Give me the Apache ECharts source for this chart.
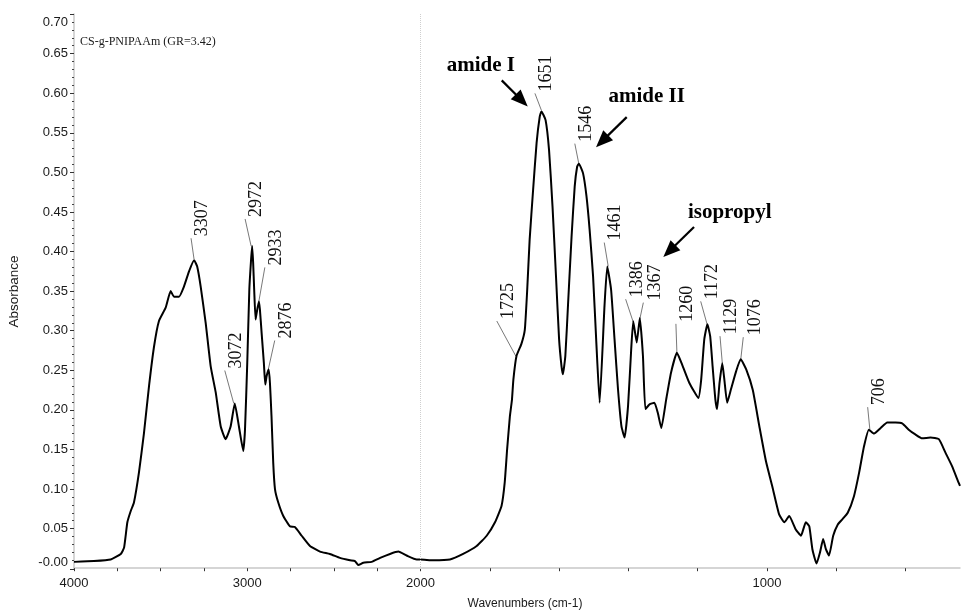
<!DOCTYPE html>
<html>
<head>
<meta charset="utf-8">
<script src="https://cdn.jsdelivr.net/npm/echarts@6/dist/echarts.min.js"></script>
<style>
  html, body { margin: 0; padding: 0; background: #fff; }
  #chart { width: 961px; height: 614px; }
</style>
</head>
<body>
<div id="chart"></div>
<script>
// spectrum (cm-1 / absorbance)
var wavenumbers = [
  4000, 3885, 3788, 3730, 3711, 3692, 3673, 3654, 3625, 3596, 3567, 3538, 3510, 3471, 3442, 3423, 3394, 3365, 3336, 3307,
  3289, 3269, 3240, 3211, 3182, 3153, 3125, 3096, 3072, 3048, 3023, 3013, 3000, 2988, 2979, 2972, 2966, 2960, 2952, 2946,
  2933, 2927, 2917, 2904, 2896, 2888, 2876, 2869, 2860, 2850, 2840, 2821, 2792, 2754, 2725, 2686, 2638, 2580, 2523, 2465,
  2407, 2378, 2359, 2330, 2282, 2233, 2176, 2128, 2080, 2022, 2000,
  1963, 1915, 1877, 1838, 1809, 1785, 1766, 1757, 1750, 1742, 1736, 1732, 1723, 1709, 1699, 1692, 1685, 1675, 1665, 1656,
  1651, 1639, 1629, 1619, 1609, 1600, 1593, 1589, 1582, 1574, 1564, 1555, 1548, 1543, 1531, 1521, 1512, 1502, 1493, 1483,
  1469, 1461, 1450, 1440, 1430, 1420, 1411, 1401, 1392, 1386, 1376, 1367, 1358, 1351, 1339, 1325, 1315, 1305, 1291, 1277,
  1260, 1243, 1224, 1198, 1190, 1181, 1172, 1164, 1157, 1149, 1144, 1137, 1129, 1123, 1115, 1104, 1089, 1076, 1060, 1041,
  1022, 1003, 984, 965, 950, 936, 917, 902, 888, 878, 869, 857, 847, 838, 830, 821, 809, 796, 782, 767,
  749, 734, 720, 706, 691, 672, 653, 629, 610, 591, 572, 552, 528, 504, 485, 466, 447, 443
];
var absorbance = [
  0.008, 0.009, 0.011, 0.018, 0.026, 0.058, 0.072, 0.083, 0.121, 0.171, 0.230, 0.280, 0.312, 0.329, 0.350, 0.343, 0.343, 0.356, 0.375, 0.389,
  0.381, 0.356, 0.310, 0.255, 0.222, 0.179, 0.163, 0.179, 0.208, 0.179, 0.148, 0.175, 0.259, 0.352, 0.386, 0.407, 0.386, 0.352, 0.314, 0.322,
  0.337, 0.327, 0.297, 0.259, 0.232, 0.243, 0.251, 0.234, 0.192, 0.133, 0.100, 0.083, 0.066, 0.053, 0.052, 0.041, 0.028, 0.021, 0.018, 0.013,
  0.010, 0.009, 0.004, 0.007, 0.008, 0.013, 0.018, 0.021, 0.016, 0.011, 0.011,
  0.010, 0.011, 0.018, 0.028, 0.041, 0.058, 0.079, 0.108, 0.150, 0.192, 0.213, 0.238, 0.268, 0.283, 0.301, 0.352, 0.415, 0.478, 0.537, 0.570,
  0.577, 0.566, 0.528, 0.457, 0.369, 0.289, 0.255, 0.245, 0.268, 0.335, 0.419, 0.482, 0.507, 0.511, 0.499, 0.470, 0.428, 0.369, 0.289, 0.209,
  0.331, 0.381, 0.352, 0.289, 0.226, 0.179, 0.165, 0.205, 0.276, 0.312, 0.285, 0.316, 0.268, 0.201, 0.207, 0.209, 0.196, 0.177, 0.213, 0.247,
  0.272, 0.255, 0.234, 0.215, 0.238, 0.289, 0.308, 0.293, 0.255, 0.213, 0.201, 0.234, 0.259, 0.238, 0.209, 0.226, 0.249, 0.264, 0.251, 0.225,
  0.179, 0.135, 0.102, 0.068, 0.058, 0.066, 0.049, 0.041, 0.058, 0.053, 0.024, 0.006, 0.020, 0.037, 0.024, 0.016, 0.041, 0.055, 0.062, 0.070,
  0.091, 0.121, 0.154, 0.175, 0.170, 0.177, 0.184, 0.184, 0.183, 0.175, 0.169, 0.164, 0.165, 0.163, 0.146, 0.129, 0.108, 0.104
];

var xTickWaves = [4000, 3750, 3500, 3250, 3000, 2750, 2500, 2250, 2000, 1800, 1600, 1400, 1200, 1000, 800, 600];
var xLabelWaves = [4000, 3000, 2000, 1000];
var yLabelValues = [-0.001, 0.05, 0.10, 0.15, 0.20, 0.25, 0.30, 0.35, 0.40, 0.45, 0.50, 0.55, 0.60, 0.65, 0.70];

var peakWaves = [3307, 3072, 2972, 2933, 2876, 1725, 1651, 1546, 1461, 1386, 1367, 1260, 1172, 1129, 1076, 706];
var peakAbs = [0.389, 0.208, 0.407, 0.337, 0.251, 0.268, 0.577, 0.511, 0.381, 0.312, 0.316, 0.272, 0.308, 0.259, 0.264, 0.175];

var bandNames = ['amide I', 'amide II', 'isopropyl'];
var bandPeaks = [1651, 1546, 1367];
var sampleName = 'CS-g-PNIPAAm (GR=3.42)';

// layout of the annotations (pixel offsets from the peak)
var leaderStart = [[0, -1], [-1, 0], [-1, 0], [0, 0], [-2, 7], [0, 0], [0, -1], [1, 0], [1, 0], [0, 1], [0, 1], [0, 0], [0, 1], [0, 0], [0, 1], [1, 0]];
var leaderEnd = [[-3, -22], [-10, -33], [-7, -27], [6, -34], [6, -29], [-19, -35], [-6.5, -18], [-3, -20], [-3, -24],
  [-7.6, -22], [3.5, -15.4], [-1, -29], [-6.7, -23], [-2.3, -27], [2.6, -22], [-1.2, -22.5]];
var bandTip = [[-13.7, -5], [18.2, -16.5], [23.5, -61]];
var bandTail = [[-39.7, -31], [48.9, -46.5], [54.2, -91]];
var bandText = [[-60.6, -46], [68.9, -67.2], [89.9, -105.4]];

var SERIF = '"Liberation Serif", "Times New Roman", serif';
var SANS = '"Liberation Sans", Arial, sans-serif';
var X_END = 443;

// the wavenumber scale is doubled below 2000 cm-1
function toPos(w){
  return w >= 2000 ? 4000 - w : 2000 + 2 * (2000 - w);
}
function toWave(p){
  return p <= 2000 ? 4000 - p : 2000 - (p - 2000) / 2;
}

var yMinorValues = [];
for (var i = 0; i < 14; i++) {
  for (var k = 1; k < 5; k++) {
    yMinorValues.push(Math.round((i * 0.05 + k * 0.01) * 1000) / 1000);
  }
}

var chart = echarts.init(document.getElementById('chart'));

var option = {
  animation: false,
  grid: {left: 74, right: 1, top: 14, bottom: 45, containLabel: false, outerBoundsMode: 'none'},
  xAxis: {
    type: 'value',
    min: 0,
    max: toPos(X_END),
    name: 'Wavenumbers (cm-1)',
    nameLocation: 'middle',
    nameGap: 29,
    nameTextStyle: {fontFamily: SANS, fontSize: 12, color: '#1a1a1a', padding: [0, 0, 0, 16]},
    axisLine: {show: true, lineStyle: {color: '#c8c8c8', width: 1.5}},
    axisTick: {show: true, customValues: xTickWaves.map(toPos), length: 3, lineStyle: {color: '#333', width: 1}},
    axisLabel: {
      customValues: xLabelWaves.map(toPos),
      formatter: function(v){
        return String(Math.round(toWave(v)))
      },
      fontFamily: SANS, fontSize: 13, color: '#1a1a1a', margin: 8
    },
    splitLine: {show: false}
  },
  yAxis: [
    {
      type: 'value',
      position: 'left',
      min: -0.001,
      max: 0.70,
      name: 'Absorbance',
      nameLocation: 'middle',
      nameGap: 53,
      nameTextStyle: {fontFamily: SANS, fontSize: 13.5, color: '#1a1a1a'},
      axisLine: {show: true, lineStyle: {color: '#c8c8c8', width: 1.5}},
      axisTick: {show: true, customValues: yLabelValues, length: 4, lineStyle: {color: '#333', width: 1}},
      axisLabel: {
        customValues: yLabelValues,
        margin: 6,
        fontFamily: SANS, fontSize: 13, color: '#1a1a1a',
        formatter: function(v){
          var s = v.toFixed(2);
          if (v < 0) {
            return '{lo|' + s + '}'
          }
          if (v >= 0.695) {
            return '{hi|' + s + '}'
          }
          return s
        },
        rich: {
          lo: {fontFamily: SANS, fontSize: 13, color: '#1a1a1a', padding: [0, 0, 13, 0]},
          hi: {fontFamily: SANS, fontSize: 13, color: '#1a1a1a', padding: [16, 0, 0, 0]}
        }
      },
      splitLine: {show: false}
    },
    {
      // minor ticks only
      type: 'value',
      position: 'left',
      offset: 0,
      min: -0.001,
      max: 0.70,
      axisLine: {show: false},
      axisTick: {show: true, customValues: yMinorValues, length: 2, lineStyle: {color: '#444', width: 1}},
      axisLabel: {show: false},
      splitLine: {show: false}
    }
  ],
  series: [
    {
      type: 'line',
      yAxisIndex: 0,
      data: wavenumbers.map(function(w, i){
        return [toPos(w), absorbance[i]]
      }),
      showSymbol: false,
      smooth: 0.15,
      lineStyle: {color: '#000', width: 2},
      silent: true,
      markLine: {
        silent: true,
        symbol: 'none',
        label: {show: false},
        lineStyle: {color: '#cfcfcf', type: 'dotted', width: 1},
        data: [{xAxis: toPos(2000)}]
      }
    }
  ]
};

chart.setOption(option);

function toPixel(w, a){
  return chart.convertToPixel({xAxisIndex: 0, yAxisIndex: 0}, [toPos(w), a]);
}

function arrowShapes(tail, tip){
  var dx = tip[0] - tail[0], dy = tip[1] - tail[1];
  var len = Math.sqrt(dx * dx + dy * dy);
  var ux = dx / len, uy = dy / len;
  var headLen = 17, halfW = 7;
  var bx = tip[0] - ux * headLen, by = tip[1] - uy * headLen;
  return [
    {
      type: 'line', silent: true,
      shape: {x1: tail[0], y1: tail[1], x2: bx + ux * 2, y2: by + uy * 2},
      style: {stroke: '#000', lineWidth: 2.2}
    },
    {
      type: 'polygon', silent: true,
      shape: {points: [[tip[0], tip[1]], [bx - uy * halfW, by + ux * halfW], [bx + uy * halfW, by - ux * halfW]]},
      style: {fill: '#000'}
    }
  ]
}

var elements = [];

elements.push({
  type: 'text', silent: true,
  x: 80, y: 42,
  style: {text: sampleName, font: '12px ' + SERIF, fill: '#1a1a1a', align: 'left', verticalAlign: 'middle'}
});

peakWaves.forEach(function(w, i){
  var p = toPixel(w, peakAbs[i]);
  var s = [p[0] + leaderStart[i][0], p[1] + leaderStart[i][1]];
  var e = [p[0] + leaderEnd[i][0], p[1] + leaderEnd[i][1]];
  elements.push({
    type: 'line', silent: true,
    shape: {x1: s[0], y1: s[1], x2: e[0], y2: e[1]},
    style: {stroke: '#555', lineWidth: 0.8}
  });
  elements.push({
    type: 'text', silent: true,
    x: e[0] + 11.5, y: e[1] - 2,
    rotation: Math.PI / 2,
    style: {text: String(w), font: '18px ' + SERIF, fill: '#111', align: 'left', verticalAlign: 'middle'}
  });
});

bandNames.forEach(function(name, i){
  var pk = peakWaves.indexOf(bandPeaks[i]);
  var p = toPixel(bandPeaks[i], peakAbs[pk]);
  var tip = [p[0] + bandTip[i][0], p[1] + bandTip[i][1]];
  var tail = [p[0] + bandTail[i][0], p[1] + bandTail[i][1]];
  elements = elements.concat(arrowShapes(tail, tip));
  elements.push({
    type: 'text', silent: true,
    x: p[0] + bandText[i][0], y: p[1] + bandText[i][1],
    style: {text: name, font: 'bold 21px ' + SERIF, fill: '#000', align: 'center', verticalAlign: 'middle'}
  });
});

chart.setOption({graphic: {elements: elements}});
</script>
</body>
</html>
